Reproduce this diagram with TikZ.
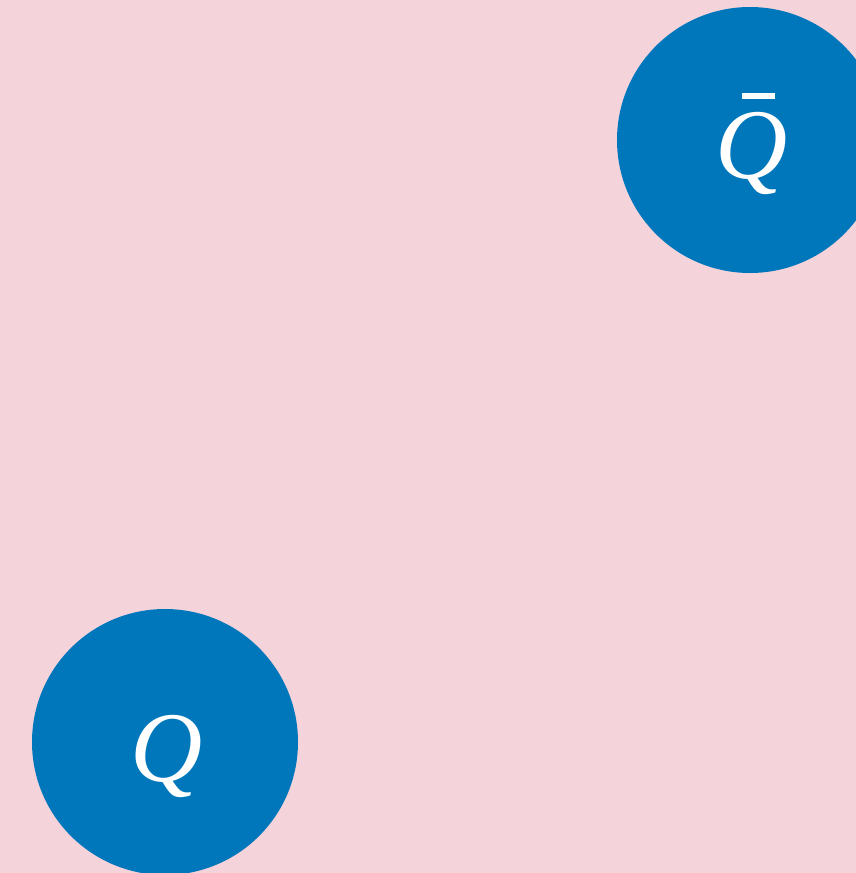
\documentclass[tikz,border=0pt]{standalone}
\usepackage{fontspec}
\newfontfamily\qfont{Liberation Serif}
\definecolor{bgpink}{HTML}{F5D3DA}
\definecolor{qblue}{HTML}{0077BB}
\begin{document}
\begin{tikzpicture}[x=1pt,y=-1pt,
  quark/.style={circle, fill=qblue, draw=none, minimum size=266pt, inner sep=0pt},
  qtext/.style={text=white, inner sep=0pt, font=\qfont\itshape\fontsize{100}{110}\selectfont}]
\useasboundingbox (0,0) rectangle (856,873);
\clip (0,0) rectangle (856,873);
\fill[bgpink] (0,0) rectangle (856,873);
\node[quark] (qbar) at (750,140) {};
\node[qtext] (qbartext) at ([shift={(2,13)}]qbar.center) {Q};
\coordinate (barl) at ([shift={(-8,-44)}]qbar.center);
\coordinate (barr) at ([shift={(25,-44)}]qbar.center);
\draw[white, line width=6pt] (barl) -- (barr);
\node[quark] (q) at (165,742) {};
\node[qtext] (qtext) at ([shift={(2,14)}]q.center) {Q};
\end{tikzpicture}
\end{document}
